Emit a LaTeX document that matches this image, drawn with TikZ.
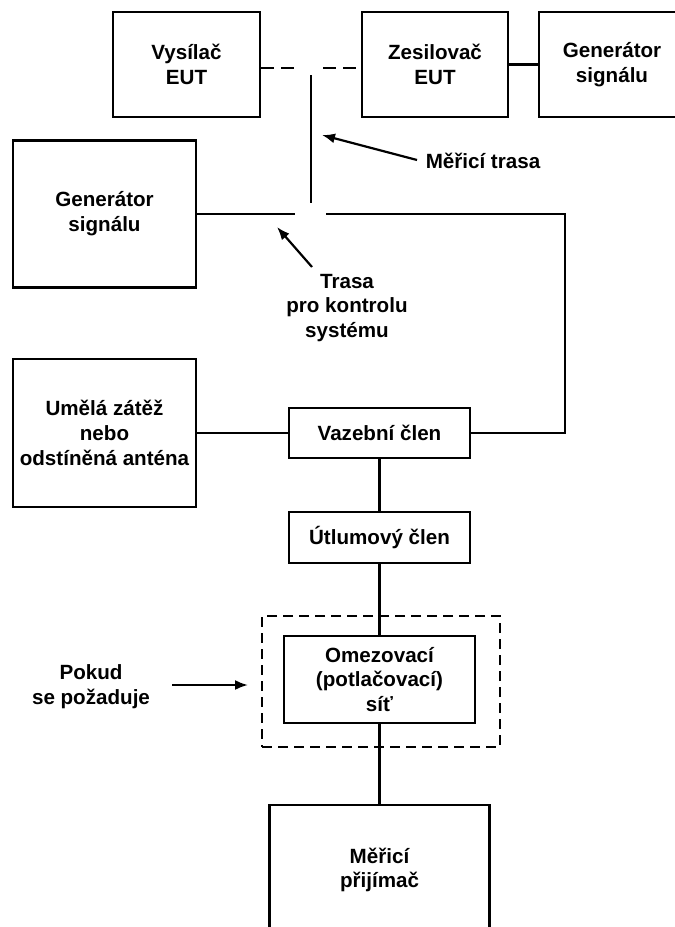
\documentclass[tikz,border=0pt]{standalone}
\usepackage{fontspec}
\setmainfont{Liberation Sans}
\usetikzlibrary{arrows.meta}

\begin{document}
\begin{tikzpicture}[x=0.5pt,y=-0.5pt,
  every node/.style={font=\bfseries\fontsize{10.3}{12.4}\selectfont,
    align=center, inner sep=0pt},
  box/.style n args={2}{draw, line width=1.1pt,
    minimum width=#1*0.5pt, minimum height=#2*0.5pt},
  optbox/.style n args={2}{draw, line width=1.1pt, dash pattern=on 5pt off 3pt,
    minimum width=#1*0.5pt, minimum height=#2*0.5pt},
  wire/.style={line width=1.1pt},
  dwire/.style={line width=1.1pt, dash pattern=on 6.5pt off 3.5pt},
  pointer/.style={line width=1.1pt, -{Latex[length=6.5pt,width=5pt]}}]

\useasboundingbox (0,0) rectangle (675,927);
\clip (0,0) rectangle (675,927);

% top row
\node[box={147}{105}] (vys)  at (186.5,64.5) {Vysílač\\EUT};
\node[box={146}{105}] (zes)  at (435,64.5)   {Zesilovač\\EUT};
\node[box={146}{105}] (gtop) at (612,64.5)   {Generátor\\signálu};

% left column
\node[box={183}{147}] (gleft) at (104.5,214) {Generátor\\signálu};
\node[box={183}{148}] (load)  at (104.5,433) {Umělá zátěž\\nebo\\odstíněná anténa};

% measuring chain
\node[box={181}{50}]  (coup) at (379.5,433)   {Vazební člen};
\node[box={181}{51}]  (att)  at (379.5,537.5) {Útlumový člen};
\node[optbox={238}{131}] (opt) at (381,681.5) {};
\node[box={191}{87}]  (lim)  at (379.5,679.5) {Omezovací\\(potlačovací)\\síť};
\node[box={220}{130}] (rcv)  at (379.5,870)   {Měřicí\\přijímač};

% labels
\node (mlabel) at (483,161) {Měřicí trasa};
\node (tlabel) at (347,308) {Trasa\\pro kontrolu\\systému};
\node (plabel) at (91,687)  {Pokud\\se požaduje};

% switching point between the two paths
\coordinate (gapL) at (295,68);
\coordinate (gapR) at (323,68);
\coordinate (mtop) at (311,75);
\coordinate (mbot) at (311,203);
\coordinate (sL)   at (295,214);
\coordinate (sR)   at (326,214);
\coordinate (turn) at (565,214);

\draw[dwire] (vys.east |- gapL) -- (gapL);
\draw[dwire] (gapR) -- (zes.west |- gapR);
\draw[wire] (zes) -- (gtop);
\draw[wire] (mtop) -- (mbot);
\draw[wire] (gleft.east) -- (sL);
\draw[wire] (sR) -- (turn) |- (coup.east);
\draw[wire] (load) -- (coup);
\draw[wire] (coup) -- (att);
\draw[wire] (att) -- (lim);
\draw[wire] (lim) -- (rcv);

% pointers
\coordinate (mtail) at (417,160);
\coordinate (mtip)  at (322,135);
\coordinate (ttail) at (312,267);
\coordinate (ttip)  at (277,227);
\coordinate (ptail) at (172,685);
\coordinate (ptip)  at (248,685);
\draw[pointer] (mtail) -- (mtip);
\draw[pointer] (ttail) -- (ttip);
\draw[pointer] (ptail) -- (ptip);
\end{tikzpicture}
\end{document}
